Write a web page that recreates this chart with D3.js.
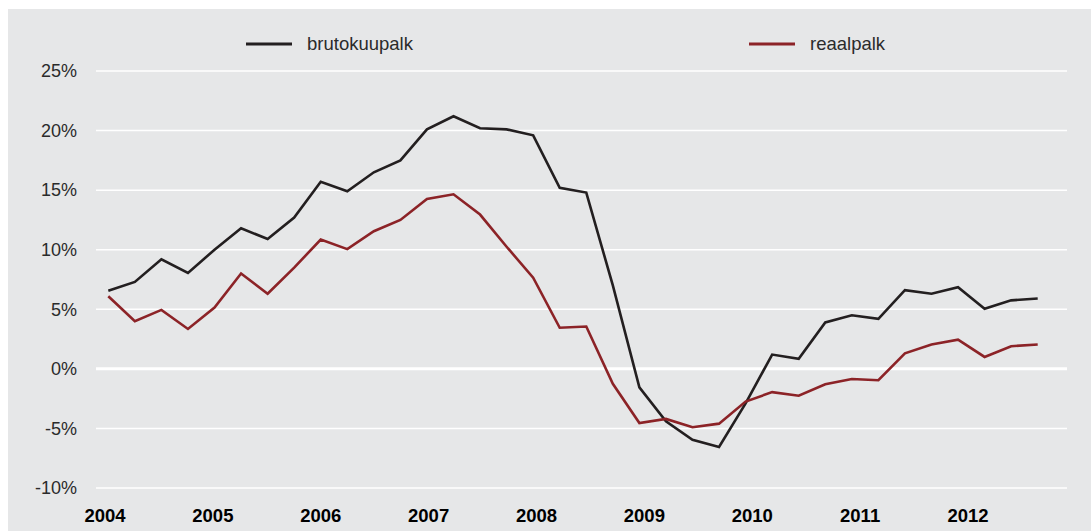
<!DOCTYPE html>
<html>
<head>
<meta charset="utf-8">
<style>
  body { margin: 0; background: #fff; }
  svg { display: block; font-family: "Liberation Sans", Arial, sans-serif; }
  .grid line { stroke: #fff; stroke-width: 1.5; }
  .grid line.zero { stroke-width: 3; }
  .tick text { fill: #2b2b2b; font-size: 18px; }
  .year { fill: #000; font-size: 18.5px; font-weight: bold; }
  .legend text { fill: #2b2b2b; font-size: 18.5px; }
</style>
</head>
<body>
<svg></svg>
<script src="https://d3js.org/d3.v7.min.js"></script>
<script>

// quarterly change, 2004 Q1 .. 2012 Q4
var quarters = d3.range(36);
var years = ["2004","2005","2006","2007","2008","2009","2010","2011","2012"];
var yTicks = [25, 20, 15, 10, 5, 0, -5, -10];

var brutokuupalk = [6.55, 7.3, 9.2, 8.05, 10.0, 11.8, 10.9, 12.7,
	15.7, 14.9, 16.5, 17.5, 20.1, 21.2, 20.2, 20.1,
	19.6, 15.2, 14.8, 7.0, -1.55, -4.4, -5.95, -6.55,
	-2.9, 1.2, 0.85, 3.9, 4.5, 4.2, 6.6, 6.3,
	6.85, 5.05, 5.75, 5.9];
var reaalpalk = [6.1, 4.0, 4.95, 3.35, 5.15, 8.0, 6.3, 8.5,
	10.85, 10.05, 11.55, 12.5, 14.25, 14.65, 12.95, 10.25,
	7.65, 3.45, 3.55, -1.25, -4.55, -4.2, -4.9, -4.6,
	-2.75, -1.95, -2.25, -1.3, -0.85, -0.95, 1.3, 2.05,
	2.45, 1.0, 1.9, 2.05];

var series = [
	{name: "brutokuupalk", values: brutokuupalk, color: "#231f20", lx: 246},
	{name: "reaalpalk", values: reaalpalk, color: "#8c2327", lx: 749}
];

var width = 1091, height = 531;
var svg = d3.select("svg").attr("width", width).attr("height", height);

//background panel
svg.append("rect").attr("x", 8).attr("y", 9)
	.attr("width", width - 8).attr("height", height - 9).attr("fill", "#e6e7e8");

var x = d3.scalePoint().domain(quarters).range([108.3, 1037.7]);
var xYear = d3.scaleLinear().domain([0, 8]).range([105, 968]);
var y = d3.scaleLinear().domain([-10, 25]).range([488, 71]);

//gridlines
svg.append("g").attr("class", "grid").selectAll("line").data(yTicks)
	.enter().append("line")
	.attr("class", function(d) { return d === 0 ? "zero" : null; })
	.attr("x1", 96).attr("x2", 1067)
	.attr("y1", function(d) { return y(d); }).attr("y2", function(d) { return y(d); });

//y axis labels
var yAxis = d3.axisLeft(y).tickValues(yTicks).tickSize(0).tickPadding(0)
	.tickFormat(function(d) { return d + "%"; });
svg.append("g").attr("transform", "translate(77,0)").call(yAxis)
	.call(function(g) { g.select(".domain").remove(); });

//year labels
svg.append("g").selectAll("text").data(years)
	.enter().append("text").attr("class", "year")
	.attr("x", function(d, i) { return xYear(i); }).attr("y", 522)
	.attr("text-anchor", "middle").text(function(d) { return d; });

//lines
var line = d3.line()
	.x(function(d, i) { return x(i); })
	.y(function(d) { return y(d); });

svg.append("g").selectAll("path").data(series)
	.enter().append("path")
	.attr("d", function(s) { return line(s.values); })
	.attr("fill", "none")
	.attr("stroke", function(s) { return s.color; })
	.attr("stroke-width", 2.6)
	.attr("stroke-linejoin", "miter");

//legend
var lg = svg.append("g").attr("class", "legend").selectAll("g").data(series)
	.enter().append("g");
lg.append("line")
	.attr("x1", function(s) { return s.lx; }).attr("x2", function(s) { return s.lx + 46; })
	.attr("y1", 44).attr("y2", 44)
	.attr("stroke", function(s) { return s.color; }).attr("stroke-width", 3);
lg.append("text")
	.attr("x", function(s) { return s.lx + 61; }).attr("y", 50)
	.text(function(s) { return s.name; });
</script>
</body>
</html>
